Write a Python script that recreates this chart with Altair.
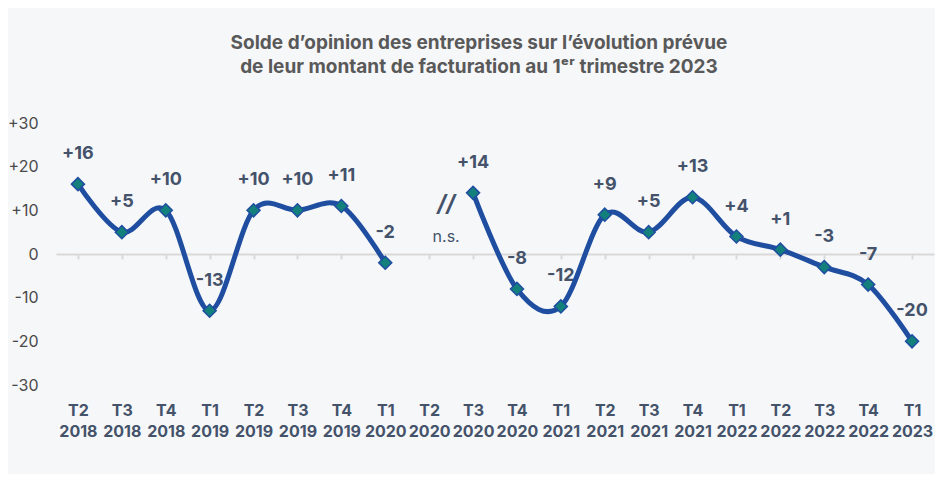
import altair as alt
import pandas as pd

categories = ["T2 2018", "T3 2018", "T4 2018", "T1 2019", "T2 2019", "T3 2019", "T4 2019",
              "T1 2020", "T2 2020", "T3 2020", "T4 2020", "T1 2021", "T2 2021", "T3 2021",
              "T4 2021", "T1 2022", "T2 2022", "T3 2022", "T4 2022", "T1 2023"]
values = [16, 5, 10, -13, 10, 10, 11, -2, None, 14, -8, -12, 9, 5, 13, 4, 1, -3, -7, -20]
segments = [0, 0, 0, 0, 0, 0, 0, 0, None, 1, 1, 1, 1, 1, 1, 1, 1, 1, 1, 1]

annot_cat = ["T2 2020", "T2 2020"]
annot_val = [11.2, 3.9]
annot_txt = ["//", "n.s."]

y_ticks = [-30, -20, -10, 0, 10, 20, 30]

rows = []
for c, v, s in zip(categories, values, segments):
    if v is None:
        continue
    rows.append({"cat": c, "val": v, "seg": s, "lab": (f"+{v}" if v > 0 else str(v))})
df = pd.DataFrame(rows)
ann = pd.DataFrame({"cat": annot_cat, "val": annot_val, "txt": annot_txt})

blue = "#1f4ea1"
teal = "#13807c"
labcol = "#44526a"
FONT = "Inter"

xenc = alt.X("cat:N", sort=categories,
             scale=alt.Scale(domain=categories, paddingInner=0, paddingOuter=0),
             axis=alt.Axis(title=None, orient="bottom", offset=-131, bandPosition=0,
                           domain=True, domainColor="#d9d9d9", domainWidth=2,
                           ticks=True, tickColor="#d9d9d9", tickWidth=2, tickSize=5,
                           labelPadding=143, labelBaseline="top", labelAngle=0,
                           labelExpr="split(datum.label, ' ')", labelLineHeight=21,
                           labelFont=FONT, labelFontSize=16, labelFontWeight="bold",
                           labelColor=labcol, grid=False, labelOverlap=False))
yenc = alt.Y("val:Q", scale=alt.Scale(domain=[-30, 30], nice=False, zero=False),
             axis=alt.Axis(title=None, values=y_ticks, grid=False, domain=False, ticks=False,
                           labelPadding=18, labelFont=FONT, labelFontSize=16,
                           labelColor="#4a4a4a",
                           labelExpr="datum.value > 0 ? '+' + datum.value : '' + datum.value"))

base = alt.Chart(df)

labels = base.mark_text(font=FONT, fontSize=18, fontWeight="bold", color=labcol,
                        dy=-30, baseline="middle").encode(x=xenc, y=yenc, text="lab:N")

line = base.mark_line(color=blue, strokeWidth=5, interpolate="cardinal").encode(
    x=xenc, y=yenc, detail="seg:N")

pts = base.mark_point(shape="diamond", filled=True, size=170, fill=teal, stroke=blue,
                      strokeWidth=1.5, opacity=1).encode(x=xenc, y=yenc)

ann_c = alt.Chart(ann)
slash = ann_c.transform_filter(alt.datum.txt == "//").mark_text(
    font=FONT, fontSize=23, fontStyle="italic", fontWeight="bold", color=labcol, dx=17,
    baseline="middle").encode(x=xenc, y=yenc, text="txt:N")
ns = ann_c.transform_filter(alt.datum.txt == "n.s.").mark_text(
    font=FONT, fontSize=16, color=labcol, dx=17, baseline="middle").encode(
    x=xenc, y=yenc, text="txt:N")

chart = alt.layer(labels, line, pts, slash, ns).properties(
    width=878, height=262,
    autosize="none",
    padding={"left": 48, "top": 115, "right": 1, "bottom": 89},
    background="#f6f7f9",
    title=alt.Title(
        ["Solde d’opinion des entreprises sur l’évolution prévue",
         "de leur montant de facturation au 1ᵉʳ trimestre 2023"],
        font=FONT, fontSize=19, fontWeight="bold", color="#595959",
        lineHeight=24, anchor="middle", offset=38, dx=-16),
).configure_view(stroke=None)

chart.save("out.html", embed_options={"renderer": "svg", "actions": False})
